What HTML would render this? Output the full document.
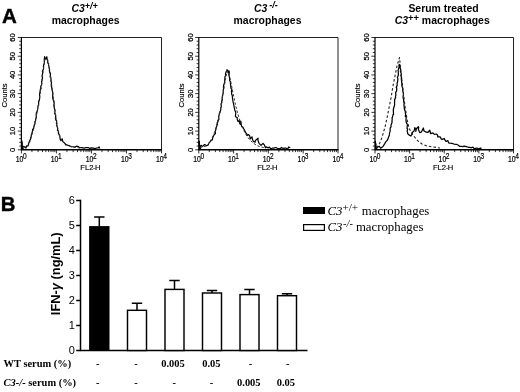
<!DOCTYPE html>
<html><head><meta charset="utf-8"><title>Figure</title>
<style>
html,body{margin:0;padding:0;background:#fff;}
body{width:520px;height:392px;overflow:hidden;}
svg{display:block;}
text{fill:#000;}
.ab{font-family:"Liberation Sans",Arial,sans-serif;font-weight:bold;}
.a{font-family:"Liberation Sans",Arial,sans-serif;}
.tb{font-family:"Liberation Serif","Times New Roman",serif;font-weight:bold;}
.t{font-family:"Liberation Serif","Times New Roman",serif;}
</style></head><body>
<svg width="520" height="392" viewBox="0 0 520 392">
<rect x="0" y="0" width="520" height="392" fill="#fff"/>

<text class="ab" x="2" y="23.2" font-size="20.5" stroke="#000" stroke-width="0.4">A</text>
<text class="ab" x="0.7" y="210.8" font-size="20.3" stroke="#000" stroke-width="0.4">B</text>
<path d="M21.4 37.5H161.5V149.8" fill="none" stroke="#222" stroke-width="1"/>
<path d="M21.4 149.8V37.0" fill="none" stroke="#000" stroke-width="1.2"/>
<line x1="20.9" y1="149.8" x2="162.0" y2="149.8" stroke="#000" stroke-width="1.5"/>
<path d="M17.8 149.80H21.4 M19.2 146.06H21.4 M19.2 142.31H21.4 M19.2 138.57H21.4 M19.2 134.83H21.4 M17.8 131.08H21.4 M19.2 127.34H21.4 M19.2 123.60H21.4 M19.2 119.85H21.4 M19.2 116.11H21.4 M17.8 112.37H21.4 M19.2 108.62H21.4 M19.2 104.88H21.4 M19.2 101.14H21.4 M19.2 97.39H21.4 M17.8 93.65H21.4 M19.2 89.91H21.4 M19.2 86.16H21.4 M19.2 82.42H21.4 M19.2 78.68H21.4 M17.8 74.93H21.4 M19.2 71.19H21.4 M19.2 67.45H21.4 M19.2 63.70H21.4 M19.2 59.96H21.4 M17.8 56.22H21.4 M19.2 52.47H21.4 M19.2 48.73H21.4 M19.2 44.99H21.4 M19.2 41.24H21.4 M17.8 37.50H21.4 M21.40 149.8V153.5 M31.94 149.8V152.10000000000002 M38.11 149.8V152.10000000000002 M42.49 149.8V152.10000000000002 M45.88 149.8V152.10000000000002 M48.65 149.8V152.10000000000002 M51.00 149.8V152.10000000000002 M53.03 149.8V152.10000000000002 M54.82 149.8V152.10000000000002 M56.42 149.8V153.5 M66.97 149.8V152.10000000000002 M73.14 149.8V152.10000000000002 M77.51 149.8V152.10000000000002 M80.91 149.8V152.10000000000002 M83.68 149.8V152.10000000000002 M86.02 149.8V152.10000000000002 M88.06 149.8V152.10000000000002 M89.85 149.8V152.10000000000002 M91.45 149.8V153.5 M101.99 149.8V152.10000000000002 M108.16 149.8V152.10000000000002 M112.54 149.8V152.10000000000002 M115.93 149.8V152.10000000000002 M118.70 149.8V152.10000000000002 M121.05 149.8V152.10000000000002 M123.08 149.8V152.10000000000002 M124.87 149.8V152.10000000000002 M126.47 149.8V153.5 M137.02 149.8V152.10000000000002 M143.19 149.8V152.10000000000002 M147.56 149.8V152.10000000000002 M150.96 149.8V152.10000000000002 M153.73 149.8V152.10000000000002 M156.07 149.8V152.10000000000002 M158.11 149.8V152.10000000000002 M159.90 149.8V152.10000000000002 M161.5 149.8V153.4" stroke="#000" stroke-width="0.8" fill="none"/>
<text class="a" font-size="7.6" stroke="#000" stroke-width="0.25" text-anchor="middle" transform="translate(15.2,149.8) rotate(-90)">0</text>
<text class="a" font-size="7.6" stroke="#000" stroke-width="0.25" text-anchor="middle" transform="translate(15.2,131.1) rotate(-90)">10</text>
<text class="a" font-size="7.6" stroke="#000" stroke-width="0.25" text-anchor="middle" transform="translate(15.2,112.4) rotate(-90)">20</text>
<text class="a" font-size="7.6" stroke="#000" stroke-width="0.25" text-anchor="middle" transform="translate(15.2,93.7) rotate(-90)">30</text>
<text class="a" font-size="7.6" stroke="#000" stroke-width="0.25" text-anchor="middle" transform="translate(15.2,74.9) rotate(-90)">40</text>
<text class="a" font-size="7.6" stroke="#000" stroke-width="0.25" text-anchor="middle" transform="translate(15.2,56.2) rotate(-90)">50</text>
<text class="a" font-size="7.6" stroke="#000" stroke-width="0.25" text-anchor="middle" transform="translate(15.2,37.5) rotate(-90)">60</text>
<text class="a" font-size="7.6" stroke="#000" stroke-width="0.15" text-anchor="middle" transform="translate(6.7,95.4) rotate(-90)">Counts</text>
<text class="a" font-size="8.6" stroke="#000" stroke-width="0.2" transform="translate(15.8,162.4) scale(0.8,1)">10<tspan font-size="8.2" dy="-3.5" dx="-0.5">0</tspan></text>
<text class="a" font-size="8.6" stroke="#000" stroke-width="0.2" transform="translate(50.8,162.4) scale(0.8,1)">10<tspan font-size="8.2" dy="-3.5" dx="-0.5">1</tspan></text>
<text class="a" font-size="8.6" stroke="#000" stroke-width="0.2" transform="translate(85.8,162.4) scale(0.8,1)">10<tspan font-size="8.2" dy="-3.5" dx="-0.5">2</tspan></text>
<text class="a" font-size="8.6" stroke="#000" stroke-width="0.2" transform="translate(120.9,162.4) scale(0.8,1)">10<tspan font-size="8.2" dy="-3.5" dx="-0.5">3</tspan></text>
<text class="a" font-size="8.6" stroke="#000" stroke-width="0.2" transform="translate(155.9,162.4) scale(0.8,1)">10<tspan font-size="8.2" dy="-3.5" dx="-0.5">4</tspan></text>
<text class="a" font-size="7.6" stroke="#000" stroke-width="0.15" text-anchor="middle" x="90.4" y="169.9">FL2<tspan dx="-0.4">-</tspan><tspan dx="-0.5">H</tspan></text>
<path d="M21.7 140.8L22.0 149.8L23.4 148.8L22.299999999999997 145.8Z" fill="#000" stroke="#000" stroke-width="0.8"/>
<path d="M198.8 37.5H338.0V149.8" fill="none" stroke="#222" stroke-width="1"/>
<path d="M198.8 149.8V37.0" fill="none" stroke="#000" stroke-width="1.2"/>
<line x1="198.3" y1="149.8" x2="338.5" y2="149.8" stroke="#000" stroke-width="1.5"/>
<path d="M195.2 149.80H198.8 M196.6 146.06H198.8 M196.6 142.31H198.8 M196.6 138.57H198.8 M196.6 134.83H198.8 M195.2 131.08H198.8 M196.6 127.34H198.8 M196.6 123.60H198.8 M196.6 119.85H198.8 M196.6 116.11H198.8 M195.2 112.37H198.8 M196.6 108.62H198.8 M196.6 104.88H198.8 M196.6 101.14H198.8 M196.6 97.39H198.8 M195.2 93.65H198.8 M196.6 89.91H198.8 M196.6 86.16H198.8 M196.6 82.42H198.8 M196.6 78.68H198.8 M195.2 74.93H198.8 M196.6 71.19H198.8 M196.6 67.45H198.8 M196.6 63.70H198.8 M196.6 59.96H198.8 M195.2 56.22H198.8 M196.6 52.47H198.8 M196.6 48.73H198.8 M196.6 44.99H198.8 M196.6 41.24H198.8 M195.2 37.50H198.8 M198.80 149.8V153.5 M209.28 149.8V152.10000000000002 M215.40 149.8V152.10000000000002 M219.75 149.8V152.10000000000002 M223.12 149.8V152.10000000000002 M225.88 149.8V152.10000000000002 M228.21 149.8V152.10000000000002 M230.23 149.8V152.10000000000002 M232.01 149.8V152.10000000000002 M233.60 149.8V153.5 M244.08 149.8V152.10000000000002 M250.20 149.8V152.10000000000002 M254.55 149.8V152.10000000000002 M257.92 149.8V152.10000000000002 M260.68 149.8V152.10000000000002 M263.01 149.8V152.10000000000002 M265.03 149.8V152.10000000000002 M266.81 149.8V152.10000000000002 M268.40 149.8V153.5 M278.88 149.8V152.10000000000002 M285.00 149.8V152.10000000000002 M289.35 149.8V152.10000000000002 M292.72 149.8V152.10000000000002 M295.48 149.8V152.10000000000002 M297.81 149.8V152.10000000000002 M299.83 149.8V152.10000000000002 M301.61 149.8V152.10000000000002 M303.20 149.8V153.5 M313.68 149.8V152.10000000000002 M319.80 149.8V152.10000000000002 M324.15 149.8V152.10000000000002 M327.52 149.8V152.10000000000002 M330.28 149.8V152.10000000000002 M332.61 149.8V152.10000000000002 M334.63 149.8V152.10000000000002 M336.41 149.8V152.10000000000002 M338.0 149.8V153.4" stroke="#000" stroke-width="0.8" fill="none"/>
<text class="a" font-size="7.6" stroke="#000" stroke-width="0.25" text-anchor="middle" transform="translate(192.6,149.8) rotate(-90)">0</text>
<text class="a" font-size="7.6" stroke="#000" stroke-width="0.25" text-anchor="middle" transform="translate(192.6,131.1) rotate(-90)">10</text>
<text class="a" font-size="7.6" stroke="#000" stroke-width="0.25" text-anchor="middle" transform="translate(192.6,112.4) rotate(-90)">20</text>
<text class="a" font-size="7.6" stroke="#000" stroke-width="0.25" text-anchor="middle" transform="translate(192.6,93.7) rotate(-90)">30</text>
<text class="a" font-size="7.6" stroke="#000" stroke-width="0.25" text-anchor="middle" transform="translate(192.6,74.9) rotate(-90)">40</text>
<text class="a" font-size="7.6" stroke="#000" stroke-width="0.25" text-anchor="middle" transform="translate(192.6,56.2) rotate(-90)">50</text>
<text class="a" font-size="7.6" stroke="#000" stroke-width="0.25" text-anchor="middle" transform="translate(192.6,37.5) rotate(-90)">60</text>
<text class="a" font-size="7.6" stroke="#000" stroke-width="0.15" text-anchor="middle" transform="translate(184.1,95.4) rotate(-90)">Counts</text>
<text class="a" font-size="8.6" stroke="#000" stroke-width="0.2" transform="translate(193.2,162.4) scale(0.8,1)">10<tspan font-size="8.2" dy="-3.5" dx="-0.5">0</tspan></text>
<text class="a" font-size="8.6" stroke="#000" stroke-width="0.2" transform="translate(228.0,162.4) scale(0.8,1)">10<tspan font-size="8.2" dy="-3.5" dx="-0.5">1</tspan></text>
<text class="a" font-size="8.6" stroke="#000" stroke-width="0.2" transform="translate(262.8,162.4) scale(0.8,1)">10<tspan font-size="8.2" dy="-3.5" dx="-0.5">2</tspan></text>
<text class="a" font-size="8.6" stroke="#000" stroke-width="0.2" transform="translate(297.6,162.4) scale(0.8,1)">10<tspan font-size="8.2" dy="-3.5" dx="-0.5">3</tspan></text>
<text class="a" font-size="8.6" stroke="#000" stroke-width="0.2" transform="translate(332.4,162.4) scale(0.8,1)">10<tspan font-size="8.2" dy="-3.5" dx="-0.5">4</tspan></text>
<text class="a" font-size="7.6" stroke="#000" stroke-width="0.15" text-anchor="middle" x="267.3" y="169.9">FL2<tspan dx="-0.4">-</tspan><tspan dx="-0.5">H</tspan></text>
<path d="M199.10000000000002 140.8L199.4 149.8L200.8 148.8L199.70000000000002 145.8Z" fill="#000" stroke="#000" stroke-width="0.8"/>
<path d="M375.0 37.5H513.5V149.8" fill="none" stroke="#222" stroke-width="1"/>
<path d="M375.0 149.8V37.0" fill="none" stroke="#000" stroke-width="1.2"/>
<line x1="374.5" y1="149.8" x2="514.0" y2="149.8" stroke="#000" stroke-width="1.5"/>
<path d="M371.4 149.80H375.0 M372.8 146.06H375.0 M372.8 142.31H375.0 M372.8 138.57H375.0 M372.8 134.83H375.0 M371.4 131.08H375.0 M372.8 127.34H375.0 M372.8 123.60H375.0 M372.8 119.85H375.0 M372.8 116.11H375.0 M371.4 112.37H375.0 M372.8 108.62H375.0 M372.8 104.88H375.0 M372.8 101.14H375.0 M372.8 97.39H375.0 M371.4 93.65H375.0 M372.8 89.91H375.0 M372.8 86.16H375.0 M372.8 82.42H375.0 M372.8 78.68H375.0 M371.4 74.93H375.0 M372.8 71.19H375.0 M372.8 67.45H375.0 M372.8 63.70H375.0 M372.8 59.96H375.0 M371.4 56.22H375.0 M372.8 52.47H375.0 M372.8 48.73H375.0 M372.8 44.99H375.0 M372.8 41.24H375.0 M371.4 37.50H375.0 M375.00 149.8V153.5 M385.42 149.8V152.10000000000002 M391.52 149.8V152.10000000000002 M395.85 149.8V152.10000000000002 M399.20 149.8V152.10000000000002 M401.94 149.8V152.10000000000002 M404.26 149.8V152.10000000000002 M406.27 149.8V152.10000000000002 M408.04 149.8V152.10000000000002 M409.62 149.8V153.5 M420.05 149.8V152.10000000000002 M426.15 149.8V152.10000000000002 M430.47 149.8V152.10000000000002 M433.83 149.8V152.10000000000002 M436.57 149.8V152.10000000000002 M438.89 149.8V152.10000000000002 M440.89 149.8V152.10000000000002 M442.67 149.8V152.10000000000002 M444.25 149.8V153.5 M454.67 149.8V152.10000000000002 M460.77 149.8V152.10000000000002 M465.10 149.8V152.10000000000002 M468.45 149.8V152.10000000000002 M471.19 149.8V152.10000000000002 M473.51 149.8V152.10000000000002 M475.52 149.8V152.10000000000002 M477.29 149.8V152.10000000000002 M478.88 149.8V153.5 M489.30 149.8V152.10000000000002 M495.40 149.8V152.10000000000002 M499.72 149.8V152.10000000000002 M503.08 149.8V152.10000000000002 M505.82 149.8V152.10000000000002 M508.14 149.8V152.10000000000002 M510.14 149.8V152.10000000000002 M511.92 149.8V152.10000000000002 M513.5 149.8V153.4" stroke="#000" stroke-width="0.8" fill="none"/>
<text class="a" font-size="7.6" stroke="#000" stroke-width="0.25" text-anchor="middle" transform="translate(368.8,149.8) rotate(-90)">0</text>
<text class="a" font-size="7.6" stroke="#000" stroke-width="0.25" text-anchor="middle" transform="translate(368.8,131.1) rotate(-90)">10</text>
<text class="a" font-size="7.6" stroke="#000" stroke-width="0.25" text-anchor="middle" transform="translate(368.8,112.4) rotate(-90)">20</text>
<text class="a" font-size="7.6" stroke="#000" stroke-width="0.25" text-anchor="middle" transform="translate(368.8,93.7) rotate(-90)">30</text>
<text class="a" font-size="7.6" stroke="#000" stroke-width="0.25" text-anchor="middle" transform="translate(368.8,74.9) rotate(-90)">40</text>
<text class="a" font-size="7.6" stroke="#000" stroke-width="0.25" text-anchor="middle" transform="translate(368.8,56.2) rotate(-90)">50</text>
<text class="a" font-size="7.6" stroke="#000" stroke-width="0.25" text-anchor="middle" transform="translate(368.8,37.5) rotate(-90)">60</text>
<text class="a" font-size="7.6" stroke="#000" stroke-width="0.15" text-anchor="middle" transform="translate(360.3,95.4) rotate(-90)">Counts</text>
<text class="a" font-size="8.6" stroke="#000" stroke-width="0.2" transform="translate(369.4,162.4) scale(0.8,1)">10<tspan font-size="8.2" dy="-3.5" dx="-0.5">0</tspan></text>
<text class="a" font-size="8.6" stroke="#000" stroke-width="0.2" transform="translate(404.0,162.4) scale(0.8,1)">10<tspan font-size="8.2" dy="-3.5" dx="-0.5">1</tspan></text>
<text class="a" font-size="8.6" stroke="#000" stroke-width="0.2" transform="translate(438.6,162.4) scale(0.8,1)">10<tspan font-size="8.2" dy="-3.5" dx="-0.5">2</tspan></text>
<text class="a" font-size="8.6" stroke="#000" stroke-width="0.2" transform="translate(473.3,162.4) scale(0.8,1)">10<tspan font-size="8.2" dy="-3.5" dx="-0.5">3</tspan></text>
<text class="a" font-size="8.6" stroke="#000" stroke-width="0.2" transform="translate(507.9,162.4) scale(0.8,1)">10<tspan font-size="8.2" dy="-3.5" dx="-0.5">4</tspan></text>
<text class="a" font-size="7.6" stroke="#000" stroke-width="0.15" text-anchor="middle" x="443.1" y="169.9">FL2<tspan dx="-0.4">-</tspan><tspan dx="-0.5">H</tspan></text>
<path d="M375.3 140.8L375.6 149.8L377.0 148.8L375.9 145.8Z" fill="#000" stroke="#000" stroke-width="0.8"/>
<path d="M21.6 140 L21.58 140.97 L22.02 142.43 L22.05 144.56 L21.76 146.41 L21.88 147.88 L23.61 146.26 L25.93 148.09 L26.66 145.75 L28.11 145.81 L28.82 142.81 L29.93 140.18 L30.57 139.12 L30.68 137.31 L31.16 136.9 L31.38 134.81 L32.13 132.77 L32.54 130.71 L32.6 129.47 L33.66 128.37 L33.83 127.15 L34.33 124.89 L35.01 123.86 L34.89 121.88 L35.52 120.68 L35.96 118.12 L36.43 116.31 L36.18 115.96 L36.19 113.98 L36.34 112.8 L37.24 111.13 L37.67 109.0 L37.84 107.84 L38.07 105.92 L38.64 105.13 L38.64 102.96 L38.6 101.36 L39.38 100.22 L39.79 97.28 L39.65 96.3 L39.57 94.26 L39.95 91.98 L40.1 91.48 L40.38 88.97 L40.83 88.53 L40.77 86.19 L41.4 85.4 L41.86 83.8 L41.59 81.42 L41.87 80.69 L42.58 77.7 L42.04 76.18 L42.26 74.97 L42.75 72.91 L42.39 71.52 L42.88 70.12 L43.61 68.74 L43.41 67.01 L43.76 64.4 L44.16 64.1 L44.34 62.54 L44.24 60.32 L44.31 59.24 L44.61 56.72 L45.74 59.39 L46.86 56.69 L47.05 58.62 L47.64 60.75 L47.82 63.17 L48.6 63.37 L48.53 65.23 L48.88 66.32 L49.56 69.39 L49.47 69.97 L49.38 70.78 L49.86 72.58 L50.55 73.89 L50.07 76.81 L50.71 76.99 L50.91 78.4 L51.09 81.74 L51.58 82.85 L51.22 83.89 L51.33 86.24 L51.84 87.88 L51.85 88.5 L52.47 91.37 L52.69 92.55 L52.85 93.93 L52.5 95.03 L52.81 95.65 L52.7 97.6 L53.1 99.85 L53.91 100.91 L54.08 103.38 L54.28 103.76 L53.81 105.01 L53.98 106.47 L54.55 109.22 L54.93 109.96 L54.95 112.04 L54.63 113.29 L55.62 115.13 L55.73 116.21 L55.46 118.4 L55.85 120.04 L56.67 120.94 L56.41 123.55 L56.95 123.78 L56.66 125.37 L57.74 128.3 L57.43 130.09 L58.56 131.53 L58.37 133.09 L58.67 133.79 L59.92 136.6 L60.02 138.78 L60.94 140.67 L62.29 138.98 L62.78 141.63 L64.77 143.16 L65.78 144.85 L67.67 145.24 L69.87 145.92 L71.58 146.73 L72.93 146.75 L75.0 147.06 L76.69 146.2 L78.28 146.56 L79.55 147.74 L81.71 147.55 L84.2 148.1 L85.84 147.53 L88.05 147.51 L89.65 148.41 L91.37 147.84 L93.45 148.19 L94.86 148.59 L96.77 147.96 L98.1 148.01 L99.01 146.85 L99.96 148.56" fill="none" stroke="#000" stroke-width="1.2" stroke-linejoin="round"/>
<path d="M23 147 L28 146 L30 141.5 L33 131 L36 119 L38.5 104 L41 89 L43 72 L45 59 L47.5 59 L49.5 70 L52 87 L54 103 L56 118 L58 130 L60.5 138 L64 143 L70 146.5 L80 148" fill="none" stroke="#333" stroke-width="1.0" stroke-linejoin="round" stroke-dasharray="2.4 1.8"/>
<path d="M199 141 L199.18 143.54 L199.58 145.18 L200.0 145.82 L199.85 148.8 L201.31 145.35 L202.66 146.4 L204.62 144.53 L206.62 145.81 L208.26 144.96 L208.69 143.39 L211.14 140.36 L212.34 139.84 L212.75 137.81 L213.91 134.98 L215.44 133.6 L215.2 131.13 L216.01 129.21 L216.23 127.42 L217.2 125.14 L217.38 124.39 L217.23 122.7 L218.11 121.52 L217.94 120.87 L218.93 119.35 L218.64 116.58 L218.92 115.84 L219.46 113.0 L219.93 112.74 L220.79 109.57 L220.68 108.75 L221.31 106.61 L221.13 103.7 L221.92 102.62 L221.62 101.79 L222.37 99.79 L222.13 98.14 L222.36 96.4 L222.96 93.71 L223.25 93.17 L223.19 90.13 L223.62 88.73 L223.45 86.99 L223.6 85.46 L224.08 83.9 L224.73 82.12 L224.75 80.17 L224.86 78.13 L225.03 76.38 L225.71 75.59 L225.47 73.7 L226.39 71.29 L226.79 70.38 L227.0 69.6 L227.4 70.51 L228.17 72.87 L228.86 70.6 L229.35 71.91 L229.25 73.06 L229.1 74.33 L229.28 77.1 L229.61 77.73 L229.63 80.61 L230.58 81.81 L230.3 82.54 L230.56 84.43 L230.69 85.9 L230.99 88.43 L231.83 89.28 L231.37 91.64 L231.63 92.14 L231.55 93.79 L232.31 95.67 L232.4 97.34 L232.55 98.58 L232.83 100.42 L232.99 101.34 L233.42 103.32 L233.88 105.45 L234.23 107.28 L234.69 109.68 L234.9 110.69 L235.69 111.87 L235.7 114.26 L235.34 116.1 L236.35 117.23 L237.21 117.56 L237.18 119.04 L238.0 121.6 L239.27 120.59 L239.58 122.71 L240.16 124.35 L240.76 121.16 L241.17 123.75 L241.64 126.6 L243.05 127.23 L243.61 128.83 L243.99 129.11 L245.27 131.95 L246.0 133.06 L246.64 133.72 L247.21 135.55 L248.62 134.58 L249.71 135.97 L250.22 138.86 L251.99 136.79 L252.48 139.33 L253.24 141.21 L255.13 142.24 L255.18 141.06 L256.22 139.65 L258.06 138.12 L257.94 140.25 L258.82 142.68 L259.16 143.62 L261.01 145.44 L262.97 143.31 L264.35 144.96 L265.43 147.79 L266.07 146.93 L268.29 147.84 L269.45 147.08 L270.74 148.8 L272.24 148.2 L273.68 148.14 L275.91 147.49 L277.29 148.22 L278.85 148.62 L279.76 149.02 L281.59 147.48 L282.75 148.37 L284.76 148.06 L286.08 148.18 L287.83 149.11 L288.55 146.95 L290.31 147.82" fill="none" stroke="#000" stroke-width="1.2" stroke-linejoin="round"/>
<path d="M200 147.5 L206 146 L210 142 L214 134 L218 120 L221 106 L224 88 L227 71 L230 78 L233 93 L236 107 L239 118 L242 126 L245 133 L249 139 L253 143 L258 146 L265 148" fill="none" stroke="#333" stroke-width="1.0" stroke-linejoin="round" stroke-dasharray="2.4 1.8"/>
<path d="M375.2 142 L375.78 143.88 L375.96 144.62 L375.68 146.31 L376.45 148.16 L377.87 146.87 L379.3 146.44 L380.64 148.1 L382.81 146.78 L384.77 143.58 L386.01 141.44 L386.89 140.82 L388.01 138.89 L388.45 137.41 L389.4 135.09 L389.53 132.69 L389.88 131.91 L390.23 130.76 L390.14 128.19 L391.05 126.83 L390.97 125.72 L391.1 124.86 L392.0 122.43 L392.0 120.93 L392.19 119.52 L392.13 117.53 L392.45 117.3 L393.0 114.5 L393.57 114.39 L393.35 111.35 L393.32 109.76 L393.66 108.26 L393.77 107.07 L394.26 106.7 L394.62 104.34 L394.52 103.04 L394.69 101.21 L394.61 99.6 L395.62 97.73 L395.4 97.03 L395.93 94.69 L395.59 93.15 L395.91 91.9 L396.61 91.03 L396.74 87.94 L396.18 87.58 L397.16 85.55 L397.08 83.1 L397.07 83.21 L397.63 81.53 L397.93 78.88 L397.31 77.16 L397.85 76.55 L398.4 75.07 L398.3 73.59 L398.29 71.65 L398.09 70.51 L398.51 69.26 L399.13 66.65 L398.92 65.05 L399.62 64.36 L399.4 64.73 L400.02 67.15 L400.15 68.0 L400.59 69.12 L400.47 71.43 L401.21 73.26 L401.3 74.46 L400.86 75.54 L401.66 77.87 L401.23 78.14 L401.55 80.81 L401.63 81.56 L402.0 84.27 L401.75 84.16 L402.04 86.48 L402.54 87.71 L402.83 90.31 L402.75 90.97 L403.36 92.79 L403.41 94.27 L403.06 96.84 L403.32 98.81 L403.68 99.06 L403.63 101.1 L404.21 103.68 L403.93 104.31 L404.18 106.98 L404.3 106.94 L404.42 109.18 L405.36 111.69 L405.4 113.4 L405.76 113.69 L405.28 116.28 L405.97 116.16 L406.09 118.28 L406.01 119.7 L406.01 120.61 L406.3 122.73 L407.12 123.89 L407.35 125.62 L407.01 128.29 L407.65 129.16 L407.17 130.81 L407.67 133.18 L407.72 133.76 L409.36 135.15 L410.92 136.06 L412.24 133.42 L412.58 132.21 L413.88 131.06 L414.22 130.72 L414.86 127.59 L415.91 129.71 L415.79 131.39 L416.33 129.1 L416.55 128.46 L418.37 126.74 L418.73 127.14 L418.43 129.46 L419.41 131.82 L419.9 132.55 L421.44 131.99 L422.39 129.93 L422.77 129.43 L423.29 127.99 L423.6 128.94 L423.84 130.75 L426.25 132.24 L427.73 132.46 L429.77 130.22 L430.58 133.59 L432.84 132.86 L434.35 134.38 L434.79 134.25 L436.64 134.0 L437.69 135.4 L437.76 136.85 L440.11 136.81 L441.22 138.87 L442.15 139.32 L444.31 138.63 L445.06 140.27 L446.21 141.46 L447.77 140.54 L448.69 142.94 L450.07 143.19 L451.91 143.39 L454.01 144.02 L456.28 144.28 L458.44 145.28 L459.48 146.32 L461.31 146.25 L462.59 146.63 L464.16 146.19 L466.43 146.65 L468.39 147.27 L469.83 147.31 L470.78 147.8 L472.9 147.19 L474.09 148.72 L475.35 148.3 L476.88 148.05 L478.58 148.8 L480.54 148.13 L481.56 148.39" fill="none" stroke="#000" stroke-width="1.25" stroke-linejoin="round"/>
<path d="M376 147.5 L378 146 L379.5 143.5 L381 140 L383 134 L385 127 L387 118 L389 108 L391 98 L393 86 L395 76 L397 66 L399.5 57.5 L401 72 L403 90 L405 106 L407 119 L409 128 L412 134 L415 137.5 L418 141 L422 144 L427 146 L433 147 L440 148" fill="none" stroke="#222" stroke-width="1.1" stroke-linejoin="round" stroke-dasharray="2.6 2"/>
<text class="ab" font-size="10.45" x="71.5" y="12.1"><tspan font-style="italic">C3</tspan><tspan font-style="italic" font-size="9" dy="-3.1">+/+</tspan></text>
<text class="ab" font-size="10.45" text-anchor="middle" x="85.6" y="24.3">macrophages</text>
<text class="ab" font-size="10.45" x="254" y="12.1"><tspan font-style="italic">C3</tspan><tspan font-style="italic" font-size="9" dy="-3.8" dx="1.8">-/-</tspan></text>
<text class="ab" font-size="10.45" text-anchor="middle" x="267.5" y="24.3">macrophages</text>
<text class="ab" font-size="10.45" text-anchor="middle" x="443.5" y="12.1">Serum treated</text>
<text class="ab" font-size="10.45" text-anchor="middle" x="442.2" y="24.4"><tspan font-style="italic">C3</tspan><tspan font-size="9.4" dy="-3.8">++</tspan><tspan dy="3.8"> macrophages</tspan></text>
<path d="M80.5 199.8V350.5H307.5" fill="none" stroke="#000" stroke-width="1.5"/>
<text class="a" font-size="11" text-anchor="end" x="74.8" y="354.4">0</text>
<text class="a" font-size="11" text-anchor="end" x="74.8" y="329.4">1</text>
<text class="a" font-size="11" text-anchor="end" x="74.8" y="304.4">2</text>
<text class="a" font-size="11" text-anchor="end" x="74.8" y="279.4">3</text>
<text class="a" font-size="11" text-anchor="end" x="74.8" y="254.4">4</text>
<text class="a" font-size="11" text-anchor="end" x="74.8" y="229.4">5</text>
<text class="a" font-size="11" text-anchor="end" x="74.8" y="204.4">6</text>
<path d="M76.2 350.5H80.5 M76.2 325.5H80.5 M76.2 300.5H80.5 M76.2 275.5H80.5 M76.2 250.5H80.5 M76.2 225.5H80.5 M76.2 200.5H80.5" stroke="#000" stroke-width="1.4" fill="none"/>
<text class="ab" font-size="12.85" text-anchor="middle" transform="translate(59.8,273.8) rotate(-90)">IFN-<tspan font-style="italic">γ</tspan> (ng/mL)</text>
<path d="M99.3 226.8V217M94.1 217H104.5" stroke="#000" stroke-width="1.5" fill="none"/>
<rect x="89.1" y="226.10000000000002" width="20.4" height="124.39999999999999" fill="#000"/>
<path d="M137.0 310.3V303.3M131.8 303.3H142.2" stroke="#000" stroke-width="1.5" fill="none"/>
<rect x="127.5" y="310.3" width="19.0" height="40.19999999999999" fill="#fff" stroke="#000" stroke-width="1.45"/>
<path d="M174.5 289.4V280.6M169.3 280.6H179.7" stroke="#000" stroke-width="1.5" fill="none"/>
<rect x="165" y="289.4" width="19" height="61.10000000000002" fill="#fff" stroke="#000" stroke-width="1.45"/>
<path d="M212.0 293V290.6M206.8 290.6H217.2" stroke="#000" stroke-width="1.5" fill="none"/>
<rect x="202.5" y="293" width="19.0" height="57.5" fill="#fff" stroke="#000" stroke-width="1.45"/>
<path d="M249.5 294.6V289.4M244.3 289.4H254.7" stroke="#000" stroke-width="1.5" fill="none"/>
<rect x="240" y="294.6" width="19" height="55.89999999999998" fill="#fff" stroke="#000" stroke-width="1.45"/>
<path d="M287.0 295.7V293.8M281.8 293.8H292.2" stroke="#000" stroke-width="1.5" fill="none"/>
<rect x="277.5" y="295.7" width="19.0" height="54.80000000000001" fill="#fff" stroke="#000" stroke-width="1.45"/>
<text class="tb" font-size="10.45" x="3.6" y="367.2">WT serum (%)</text>
<text class="tb" font-size="10.45" x="3.6" y="386"><tspan font-style="italic">C3-/-</tspan> serum (%)</text>
<text class="tb" font-size="10.45" text-anchor="middle" x="97.75" y="367.2">-</text>
<text class="tb" font-size="10.45" text-anchor="middle" x="136" y="367.2">-</text>
<text class="tb" font-size="10.45" text-anchor="middle" x="173" y="367.2">0.005</text>
<text class="tb" font-size="10.45" text-anchor="middle" x="211.3" y="367.2">0.05</text>
<text class="tb" font-size="10.45" text-anchor="middle" x="250.4" y="367.2">-</text>
<text class="tb" font-size="10.45" text-anchor="middle" x="287.7" y="367.2">-</text>
<text class="tb" font-size="10.45" text-anchor="middle" x="97.75" y="386">-</text>
<text class="tb" font-size="10.45" text-anchor="middle" x="136" y="386">-</text>
<text class="tb" font-size="10.45" text-anchor="middle" x="174.25" y="386">-</text>
<text class="tb" font-size="10.45" text-anchor="middle" x="211.5" y="386">-</text>
<text class="tb" font-size="10.45" text-anchor="middle" x="248.8" y="386">0.005</text>
<text class="tb" font-size="10.45" text-anchor="middle" x="285.8" y="386">0.05</text>
<rect x="303" y="207" width="22" height="7" fill="#000"/>
<rect x="303.6" y="224.6" width="20.8" height="5.8" fill="#fff" stroke="#000" stroke-width="1.2"/>
<text class="t" font-size="12.8" x="327.5" y="215.3"><tspan font-style="italic">C3</tspan><tspan font-size="11.2" dy="-4.6">+/+</tspan><tspan dy="4.6" x="358.6"> macrophages</tspan></text>
<text class="t" font-size="12.8" x="327.5" y="231.4"><tspan font-style="italic">C3</tspan><tspan font-size="10.4" dy="-4.8" dx="0.6" font-style="italic">-/-</tspan><tspan dy="4.8" x="352.7"> macrophages</tspan></text>
</svg></body></html>
